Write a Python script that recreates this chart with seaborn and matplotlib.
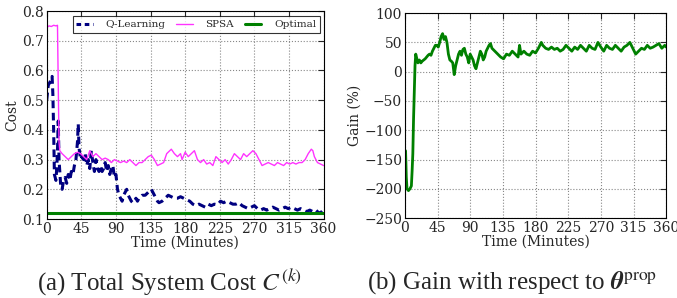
import numpy as np
import pandas as pd
import seaborn as sns
import matplotlib.pyplot as plt

# Q-Learning cost
q_time = [0, 2, 4, 6, 7, 8, 9, 10, 11, 12, 13, 14, 15, 16, 18, 20, 22, 24, 26, 28, 30, 32, 34, 36, 38, 40, 41, 42,
          44, 46, 48, 50, 52, 54, 56, 58, 60, 62, 64, 66, 68, 70, 72, 74, 76, 78, 80, 82, 84, 86, 88, 90, 92, 94,
          96, 98, 100, 102, 104, 106, 108, 110, 112, 114, 116, 118, 120, 124, 128, 132, 136, 138, 140, 142, 144,
          146, 150, 154, 158, 162, 166, 170, 174, 178, 182, 186, 190, 194, 198, 202, 206, 210, 214, 218, 222, 226,
          230, 234, 238, 242, 246, 250, 254, 258, 262, 266, 270, 274, 278, 282, 286, 290, 294, 298, 302, 306, 310,
          314, 318, 322, 326, 330, 334, 338, 342, 346, 350, 354, 358, 360]
q_cost = [0.50, 0.55, 0.56, 0.57, 0.58, 0.52, 0.40, 0.25, 0.24, 0.23, 0.27, 0.33, 0.43, 0.30, 0.22, 0.20, 0.23,
          0.24, 0.22, 0.25, 0.23, 0.26, 0.25, 0.28, 0.30, 0.36, 0.42, 0.34, 0.30, 0.31, 0.30, 0.32, 0.28, 0.30,
          0.27, 0.33, 0.29, 0.26, 0.30, 0.27, 0.26, 0.28, 0.26, 0.27, 0.29, 0.26, 0.28, 0.25, 0.27, 0.28, 0.24,
          0.25, 0.20, 0.18, 0.17, 0.16, 0.18, 0.19, 0.20, 0.18, 0.17, 0.16, 0.155, 0.16, 0.17, 0.16, 0.17, 0.18,
          0.18, 0.19, 0.20, 0.19, 0.18, 0.17, 0.16, 0.155, 0.16, 0.17, 0.18, 0.175, 0.17, 0.17, 0.175, 0.17,
          0.165, 0.16, 0.15, 0.145, 0.15, 0.145, 0.14, 0.15, 0.145, 0.15, 0.148, 0.16, 0.155, 0.16, 0.155, 0.15,
          0.15, 0.155, 0.145, 0.14, 0.135, 0.14, 0.145, 0.135, 0.13, 0.135, 0.13, 0.135, 0.14, 0.135, 0.13,
          0.135, 0.14, 0.135, 0.14, 0.135, 0.13, 0.135, 0.13, 0.125, 0.13, 0.125, 0.13, 0.12, 0.125, 0.13]

# SPSA cost
s_time = [0, 3, 6, 9, 12, 14, 15, 16, 17, 20, 24, 28, 32, 36, 40, 44, 48, 52, 56, 60, 64, 68, 72, 76, 80, 84, 88,
          92, 96, 100, 104, 108, 112, 116, 120, 124, 128, 132, 136, 140, 144, 148, 152, 156, 160, 162, 166, 170,
          174, 176, 180, 184, 188, 192, 196, 200, 204, 208, 212, 216, 220, 224, 228, 232, 236, 240, 244, 248, 252,
          256, 260, 264, 268, 272, 276, 280, 284, 288, 292, 296, 300, 304, 308, 312, 316, 320, 324, 328, 332, 336,
          340, 344, 346, 348, 352, 356, 360]
s_cost = [0.745, 0.75, 0.748, 0.752, 0.75, 0.752, 0.55, 0.36, 0.33, 0.32, 0.31, 0.30, 0.31, 0.32, 0.325, 0.32,
          0.31, 0.30, 0.33, 0.31, 0.32, 0.31, 0.30, 0.305, 0.30, 0.29, 0.30, 0.295, 0.29, 0.295, 0.29, 0.30,
          0.29, 0.28, 0.29, 0.29, 0.30, 0.31, 0.315, 0.30, 0.28, 0.285, 0.29, 0.32, 0.33, 0.335, 0.32, 0.31,
          0.32, 0.30, 0.325, 0.31, 0.32, 0.33, 0.30, 0.29, 0.30, 0.285, 0.29, 0.28, 0.31, 0.30, 0.29, 0.30,
          0.285, 0.30, 0.32, 0.31, 0.30, 0.32, 0.31, 0.32, 0.33, 0.32, 0.30, 0.28, 0.285, 0.29, 0.285, 0.28,
          0.29, 0.285, 0.28, 0.29, 0.285, 0.29, 0.285, 0.29, 0.29, 0.30, 0.32, 0.335, 0.33, 0.31, 0.29, 0.285, 0.28]

# optimal cost
o_time = [0, 360]
o_cost = [0.12, 0.12]

# gain w.r.t. theta_prop
g_time = [0, 1, 2, 3, 5, 7, 9, 10, 11, 12, 13, 14, 15, 16, 18, 20, 22, 24, 26, 28, 30, 32, 34, 36, 38, 40, 42, 44,
          46, 48, 50, 52, 54, 56, 58, 60, 62, 64, 66, 68, 70, 72, 74, 76, 78, 80, 82, 84, 86, 88, 90, 92, 94, 96,
          98, 100, 102, 104, 106, 108, 110, 112, 114, 116, 118, 120, 124, 128, 132, 136, 140, 144, 148, 152, 156,
          158, 160, 164, 168, 172, 176, 180, 184, 188, 190, 194, 198, 202, 206, 210, 214, 218, 222, 226, 230, 234,
          238, 242, 246, 250, 254, 258, 262, 266, 270, 274, 278, 282, 286, 290, 294, 298, 302, 306, 310, 314, 318,
          322, 326, 330, 334, 338, 342, 346, 350, 354, 358, 360]
g_val = [-140, -135, -180, -200, -203, -200, -195, -170, -140, -80, -35, 10, 30, 25, 15, 20, 15, 18, 20, 22, 25, 28,
         30, 28, 35, 40, 45, 45, 42, 50, 60, 65, 55, 60, 50, 30, 20, 18, 15, -5, 10, 20, 30, 35, 28, 38, 40, 30, 25,
         15, 30, 25, 20, 10, 5, 15, 25, 35, 30, 20, 25, 35, 40, 45, 48, 40, 35, 30, 25, 22, 30, 28, 35, 30, 25, 45,
         30, 35, 30, 28, 35, 32, 40, 50, 45, 40, 38, 42, 38, 40, 35, 38, 45, 40, 35, 42, 38, 45, 40, 35, 45, 40, 38,
         50, 42, 35, 45, 40, 38, 45, 40, 35, 42, 45, 50, 40, 30, 35, 40, 38, 45, 40, 42, 45, 48, 40, 45, 42]

xticks = np.arange(0, 361, 45)

sns.set_theme(style="white")
plt.rcParams['font.family'] = ['DejaVu Serif']
plt.rcParams['mathtext.fontset'] = 'stix'
plt.rcParams['xtick.direction'] = 'in'
plt.rcParams['ytick.direction'] = 'in'

fig = plt.figure(figsize=(6.77, 2.98), dpi=100)
ax1 = fig.add_axes([0.069, 0.265, 0.409, 0.698])
ax2 = fig.add_axes([0.598, 0.268, 0.386, 0.688])

sns.lineplot(x=q_time, y=q_cost, ax=ax1, color="#000080", lw=2.2, linestyle=(0, (2.5, 1.5)),
             estimator=None, sort=False, label="Q-Learning")
sns.lineplot(x=s_time, y=s_cost, ax=ax1, color="#ff33ff", lw=1.0,
             estimator=None, sort=False, label="SPSA")
sns.lineplot(x=o_time, y=o_cost, ax=ax1, color="#008000", lw=2.2,
             estimator=None, sort=False, label="Optimal")
ax1.set_xlim(0, 360)
ax1.set_ylim(0.1, 0.8)
ax1.set_yticks(np.arange(0.1, 0.81, 0.1))
ax1.set_xlabel("Time (Minutes)", fontsize=10, labelpad=0)
ax1.set_ylabel("Cost", fontsize=10, labelpad=2)
leg = ax1.legend(loc="lower left", bbox_to_anchor=(0.094, 0.895, 0.892, 0.086), mode="expand",
                 ncol=3, fontsize=7.5, frameon=True, fancybox=False, edgecolor="black",
                 borderaxespad=0, handlelength=1.6, handletextpad=1.2, borderpad=0.35)
leg.get_frame().set_linewidth(0.8)
leg.get_lines()[0].set_linestyle((0, (1.5, 1.2)))

sns.lineplot(x=g_time, y=g_val, ax=ax2, color="#008000", lw=2.0, estimator=None, sort=False)
ax2.set_xlim(0, 360)
ax2.set_ylim(-250, 100)
ax2.set_yticks(np.arange(-250, 101, 50))
ax2.set_xlabel("Time (Minutes)", fontsize=10, labelpad=0)
ax2.set_ylabel("Gain (%)", fontsize=10, labelpad=2)

for ax in (ax1, ax2):
    ax.set_xticks(xticks)
    ax.tick_params(labelsize=10, length=4, width=0.8, pad=2, top=True, right=True)
    ax.grid(True, color="#888888", linestyle=":", linewidth=0.8)
    for sp in ax.spines.values():
        sp.set_color("black")
        sp.set_linewidth(0.8)

fig.text(0.251, 0.052, r"(a) Total System Cost $C^{(k)}$", ha="center", va="center",
         fontsize=18, family="Liberation Serif")
fig.text(0.756, 0.052, r"(b) Gain with respect to $\boldsymbol{\theta}^{\mathrm{prop}}$", ha="center",
         va="center", fontsize=18, family="Liberation Serif")

fig.savefig("out.png", dpi=100)
